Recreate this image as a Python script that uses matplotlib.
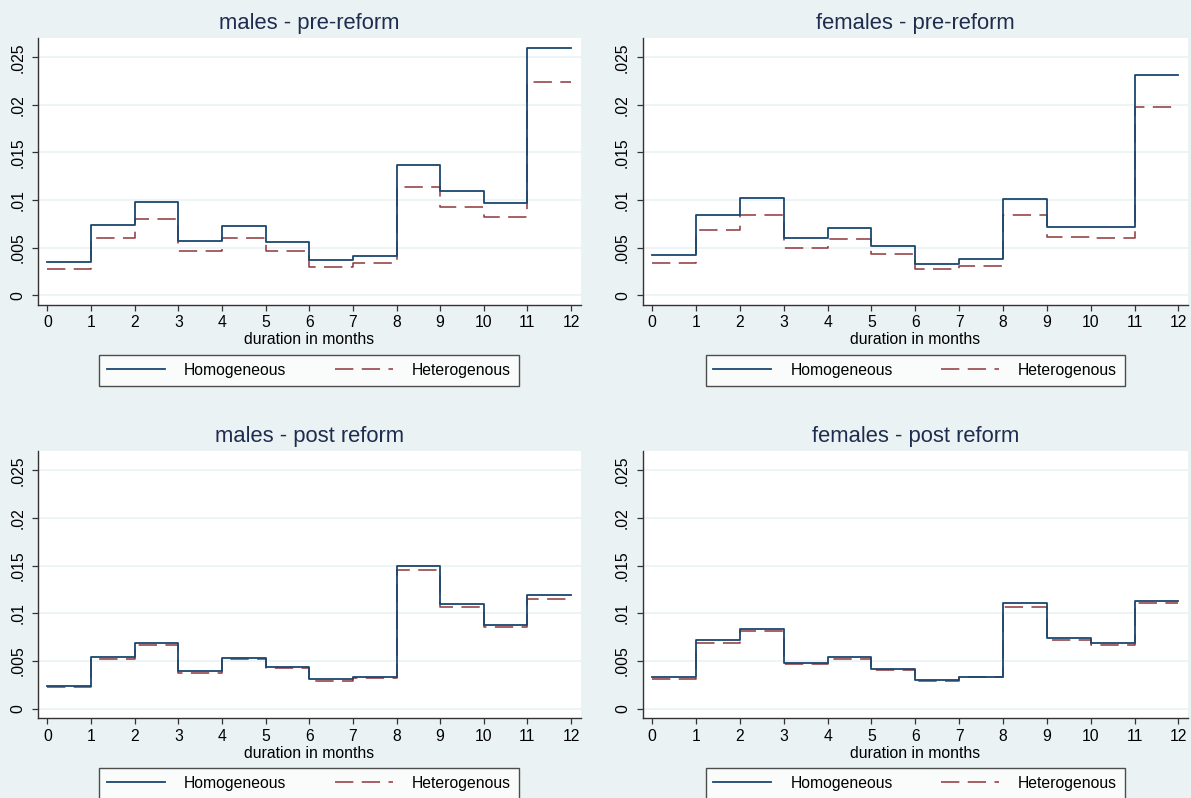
import matplotlib
matplotlib.use('Agg')
import matplotlib.pyplot as plt
from matplotlib.lines import Line2D

plt.rcParams['font.family'] = ['Liberation Sans', 'DejaVu Sans']

BG = '#eaf2f3'
NAVY = '#1a476f'
MAROON = '#90353b'
TITLE_COLOR = '#1e2d4f'

months = list(range(13))
month_labels = [str(m) for m in months]
y_ticks = [0, 0.005, 0.01, 0.015, 0.02, 0.025]
y_tick_labels = ['0', '.005', '.01', '.015', '.02', '.025']

titles = ['males - pre-reform', 'females - pre-reform',
          'males - post reform', 'females - post reform']

# hazard per month interval [m, m+1)
males_pre_homog = [0.00347, 0.00739, 0.00977, 0.00567, 0.00732, 0.00560,
                   0.00368, 0.00417, 0.01369, 0.01100, 0.00966, 0.02598]
males_pre_heter = [0.00280, 0.00602, 0.00798, 0.00469, 0.00606, 0.00466,
                   0.00301, 0.00343, 0.01141, 0.00928, 0.00819, 0.02237]
females_pre_homog = [0.00424, 0.00840, 0.01026, 0.00606, 0.00707, 0.00518,
                     0.00329, 0.00378, 0.01012, 0.00721, 0.00714, 0.02314]
females_pre_heter = [0.00343, 0.00686, 0.00844, 0.00497, 0.00588, 0.00434,
                     0.00277, 0.00312, 0.00847, 0.00609, 0.00602, 0.01978]
males_post_homog = [0.00235, 0.00543, 0.00693, 0.00389, 0.00529, 0.00441,
                    0.00305, 0.00329, 0.01495, 0.01100, 0.00882, 0.01187]
males_post_heter = [0.00224, 0.00525, 0.00669, 0.00375, 0.00515, 0.00424,
                    0.00291, 0.00319, 0.01450, 0.01064, 0.00861, 0.01155]
females_post_homog = [0.00329, 0.00718, 0.00833, 0.00483, 0.00539, 0.00420,
                      0.00298, 0.00336, 0.01106, 0.00739, 0.00686, 0.01134]
females_post_heter = [0.00315, 0.00690, 0.00809, 0.00469, 0.00522, 0.00403,
                      0.00284, 0.00326, 0.01068, 0.00718, 0.00665, 0.01103]

panels = [
    (males_pre_homog, males_pre_heter),
    (females_pre_homog, females_pre_heter),
    (males_post_homog, males_post_heter),
    (females_post_homog, females_post_heter),
]

# axes rectangles in figure fraction
rects = [
    [0.0318, 0.6178, 0.4557, 0.3350],
    [0.5395, 0.6178, 0.4580, 0.3350],
    [0.0318, 0.0999, 0.4557, 0.3353],
    [0.5395, 0.0999, 0.4580, 0.3353],
]

FS = 11.3
DASH = (12, 5.5)

fig = plt.figure(figsize=(11.91, 7.98), dpi=100)
fig.patch.set_facecolor(BG)

for rect, title, (homog, heter) in zip(rects, titles, panels):
    ax = fig.add_axes(rect)
    ax.set_facecolor('white')
    for y in y_ticks:
        ax.axhline(y, color=BG, linewidth=1.2, zorder=0)
    ax.step(months, homog + [homog[-1]], where='post', color=NAVY,
            linewidth=1.3, zorder=3)
    ax.step(months, heter + [heter[-1]], where='post', color=MAROON,
            linewidth=1.1, dashes=DASH, zorder=2)
    ax.set_xlim(-0.22, 12.22)
    ax.set_ylim(-0.00102, 0.02706)
    ax.set_xticks(months)
    ax.set_xticklabels(month_labels, fontsize=FS)
    ax.set_yticks(y_ticks)
    ax.set_yticklabels(y_tick_labels, fontsize=FS, rotation=90, va='center')
    ax.tick_params(length=4, width=0.9, color='#333333', pad=3.5)
    ax.tick_params(axis='y', pad=5)
    for s in ['top', 'right']:
        ax.spines[s].set_visible(False)
    for s in ['left', 'bottom']:
        ax.spines[s].set_color('#333333')
        ax.spines[s].set_linewidth(1.0)
    ax.set_xlabel('duration in months', fontsize=FS, labelpad=1.5)
    ax.set_title(title, fontsize=15.8, color=TITLE_COLOR, pad=6)

    handles = [Line2D([], [], color=NAVY, linewidth=1.3),
               Line2D([], [], color=MAROON, linewidth=1.1, dashes=DASH)]
    leg = ax.legend(handles, ['Homogeneous', 'Heterogenous'], ncol=2,
                    loc='upper center', bbox_to_anchor=(0.5, -0.157),
                    fontsize=FS, frameon=True, fancybox=False,
                    handlelength=3.7, handletextpad=1.2, columnspacing=3.1,
                    borderpad=0.5)
    leg.get_frame().set_edgecolor('#222222')
    leg.get_frame().set_linewidth(1.0)
    leg.get_frame().set_facecolor('white')

fig.savefig('out.png', dpi=100, facecolor=BG)
